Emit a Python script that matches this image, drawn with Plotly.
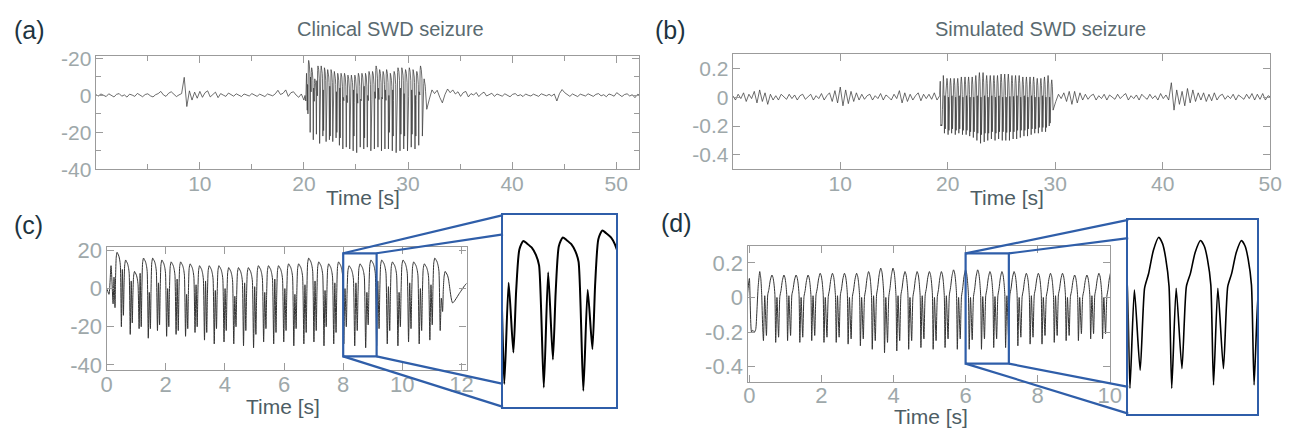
import plotly.graph_objects as go

# ======================= DATA =======================
# ---- Clinical recording (panel a); panel (c) is the excerpt starting at clin_offset ----
clin_step = 0.25
clin_pre_t0 = 0.0
clin_pre_v = [0.5, -0.3, 0.8, 0.2, -0.6, 0.9, 0.1, -0.8, 0.6, 1.0, -0.4, 0.3,
              -0.9, 0.7, 0.2, -0.5, 1.1, 0.0, -0.7, 0.5, 0.9, -0.2, -0.8, 0.4,
              1.0, 2.2, 0.3, -0.5, 1.2, 2.0, 0.4, -0.6,
              0.3, 1.0, 9.8, -6.0, 2.5, -2.5, 1.8, -1.5,
              2.2, -1.0, 1.5, 2.5, -0.8, 0.6, 1.8, -1.2, 1.0, 0.2, -0.5, 1.3,
              0.2, -0.4, 0.9, 0.3, -0.6, 0.8, 0.1, -0.3, 1.0, 0.4, -0.5, 0.7,
              0.0, -0.6, 0.8, 0.3, -0.2, 0.9,
              2.8, 0.5, 1.2, 3.0, -0.5, 1.5, 2.0, 0.2, -1.0, 0.8, -2.5]
clin_post_t0 = 31.8
clin_post_v = [-7.5, -2.0, 3.0, 1.0, 2.8, -1.0, -4.0, 0.5, 3.5, 1.5, 3.0, 0.8,
               2.0, -0.5, 1.5, 2.2, -0.8, 1.0, 0.2, 1.6, -0.6, 0.9, 1.8, -0.3,
               0.6, 1.2, -0.5, 0.8, 0.2, -0.4, 0.9, 0.3, -0.7, 0.6, 1.0, -0.2,
               0.4, -0.6, 0.8, 0.1, -0.3, 0.7,
               0.2, -0.5, 0.9, 0.4, -0.2, 0.6, -0.3, 0.8, -3.0, 1.0, 3.2, 1.5,
               0.3, -0.5, 0.8, 0.1, -0.6, 0.7, 0.2, -0.3, 0.9, 0.0, -0.5, 0.6,
               1.0, -0.2, 0.4, -0.7, 0.8, 0.3, -0.4, 1.5, 0.2, -0.6, 0.5, 0.9,
               -0.3, 0.4, -1.2, 0.6, 0.2]
clin_offset = 20.1                      # time in (a) where excerpt (c) starts
clin_lead_t = [0.0, 0.08, 0.15]         # excerpt time
clin_lead_v = [0.0, -3.0, 12.0]
# spike-wave cycles (excerpt time of each deep trough, and the levels of each cycle)
clin_onset = [0.22, 0.50, 0.80, 1.10, 1.41, 1.72, 2.03, 2.35, 2.67, 2.99,
              3.31, 3.64, 3.97, 4.30, 4.63, 4.97, 5.31, 5.65, 5.99, 6.33,
              6.67, 7.01, 7.35, 7.68, 8.02, 8.39, 8.76, 9.13, 9.49, 9.85,
              10.21, 10.57, 10.93, 11.28]
clin_trough = [-8, -20, -24, -21, -26, -22, -25, -24, -25, -23,
               -27, -29, -28, -29, -30, -31, -28, -29, -28, -30,
               -29, -28, -30, -29, -29, -30, -31, -30, -29, -30,
               -28, -29, -27, -22]
clin_spike = [6, 10, 4, 8, -2, 3, 0, 5, -3, 2,
              4, -1, 0, -4, 3, 1, -2, 5, 0, -3,
              2, 4, -1, 3, 0, 3, -2, 4, 1, -2,
              3, 0, 2, -5]
clin_notch = [-10, -14, -18, -20, -21, -19, -20, -22, -21, -20,
              -23, -21, -22, -20, -22, -24, -21, -23, -22, -21,
              -23, -22, -20, -23, -20, -22, -19, -21, -22, -20,
              -21, -22, -19, -12]
clin_peak = [19, 15, 9, 16, 16, 15, 14, 14, 13, 12,
             12, 12, 11, 11, 11, 12, 12, 12, 13, 13,
             16, 14, 13, 14, 12, 13, 15, 15, 14, 15,
             14, 13, 16, 9]
# cycle shape (c): (phase, weights of D/S/T/P, constant)
clin_shape = [(0.00, {'D': 1}), (0.11, {'S': 1}), (0.23, {'T': 1}),
              (0.30, {'T': 0.45, 'P': 0.55}), (0.38, {'P': 1, 'c': -2.5}),
              (0.48, {'P': 1}), (0.58, {'P': 1, 'c': -0.8}), (0.70, {'P': 1, 'c': -2.0}),
              (0.80, {'P': 1, 'c': -4.0}), (0.88, {'P': 1, 'c': -7.0})]

# ---- Simulated recording (panel b); panel (d) is the excerpt starting at sim_offset ----
sim_step = 0.25
sim_pre_t0 = 0.0
sim_pre_v = [0.01, -0.02, 0.02, -0.01, 0.03, -0.03, 0.02, -0.01,
             0.04, -0.04, 0.05, -0.03, 0.03, -0.05, 0.02, -0.02,
             0.01, -0.02, 0.02, 0.0, -0.015, 0.02, -0.01, 0.015, -0.02, 0.01,
             0.02, -0.015, 0.0, 0.02, -0.02, 0.01, -0.01, 0.025, -0.02, 0.01,
             0.03, -0.03, 0.045, -0.04, 0.07, -0.06, 0.05, -0.045, 0.04, -0.03, 0.03, -0.02,
             0.02, -0.015, 0.01, 0.02, -0.02, 0.01, -0.01, 0.025, -0.02, 0.015, 0.0, -0.02,
             0.02, -0.01,
             0.045, -0.04, 0.03, -0.03, 0.02, -0.02, 0.01, 0.03, -0.025, 0.02, -0.01, 0.02,
             -0.015, 0.03, -0.02, 0.01]
sim_post_t0 = 29.8
sim_post_v = [-0.09, -0.03, 0.02, -0.01, 0.03, -0.03, 0.04, -0.05, 0.04, -0.04, 0.03, -0.02,
              0.02, -0.015, 0.01, 0.02, -0.02, 0.01, -0.01, 0.02, -0.02, 0.015, 0.0, -0.015,
              0.02, -0.01, 0.01, 0.025, -0.02, 0.01, -0.01, 0.015, -0.02, 0.02, 0.0, -0.015,
              0.02, -0.01, 0.01, -0.02, 0.025, -0.01, 0.015, -0.02,
              0.10, -0.09, 0.05, -0.05, 0.04, -0.06, 0.06, -0.04, 0.05, -0.03, 0.03, -0.02,
              0.03, -0.03, 0.02, -0.025, 0.03, -0.02, 0.01, 0.02, -0.015, 0.01, -0.01, 0.02,
              -0.02, 0.015, 0.0, -0.015, 0.02, -0.01, 0.025, -0.02, 0.02, -0.015, 0.025, -0.02,
              0.01, 0.0]
sim_offset = 19.3
sim_lead_t = [-0.05, 0.0]
sim_lead_v = [0.02, 0.11]
sim_onset = [0.06, 0.39, 0.73, 1.06, 1.40, 1.73, 2.07, 2.41, 2.74, 3.08,
             3.41, 3.75, 4.09, 4.42, 4.76, 5.10, 5.43, 5.77, 6.10, 6.44,
             6.78, 7.11, 7.45, 7.79, 8.12, 8.46, 8.79, 9.13, 9.47, 9.80, 10.14]
sim_trough = [-0.20, -0.25, -0.26, -0.25, -0.26, -0.25, -0.26, -0.26, -0.27, -0.28,
              -0.30, -0.32, -0.31, -0.30, -0.29, -0.30, -0.29, -0.30, -0.30, -0.30,
              -0.29, -0.29, -0.28, -0.27, -0.27, -0.26, -0.25, -0.25, -0.24, -0.24, -0.20]
sim_spike = [-0.19, 0.01, 0.0, 0.01, 0.0, 0.01, 0.0, 0.01, 0.0, 0.0,
             0.01, 0.0, 0.01, 0.0, 0.01, 0.0, 0.01, 0.0, 0.0, 0.005,
             0.005, 0.01, 0.0, 0.01, 0.0, 0.01, 0.0, 0.0, 0.01, 0.0, 0.0]
sim_notch = [-0.20, -0.22, -0.23, -0.22, -0.23, -0.22, -0.23, -0.23, -0.24, -0.24,
             -0.25, -0.26, -0.25, -0.25, -0.24, -0.25, -0.24, -0.24, -0.245, -0.24,
             -0.24, -0.23, -0.23, -0.23, -0.22, -0.22, -0.22, -0.21, -0.21, -0.21, -0.18]
sim_peak = [0.15, 0.13, 0.13, 0.13, 0.13, 0.14, 0.14, 0.14, 0.14, 0.15,
            0.17, 0.17, 0.15, 0.15, 0.15, 0.15, 0.16, 0.16, 0.16, 0.15,
            0.15, 0.15, 0.14, 0.14, 0.14, 0.14, 0.13, 0.13, 0.14, 0.15, 0.12]
sim_shape = [(0.000, {'D': 1}), (0.106, {'S': 1}), (0.244, {'T': 1}),
             (0.350, {'S': 1, 'c': 0.005}), (0.447, {'S': 0.69, 'P': 0.31}),
             (0.560, {'S': 0.25, 'P': 0.75}), (0.690, {'P': 1}),
             (0.780, {'S': 0.12, 'P': 0.88}), (0.854, {'S': 0.39, 'P': 0.61}),
             (0.935, {'S': 0.93, 'P': 0.07})]

# axis labels
clin_y_vals = [-40, -20, 0, 20]
clin_y_text = ['-40', '-20', '0', '-20']
clin_x_vals = [10, 20, 30, 40, 50]
sim_y_vals = [-0.4, -0.2, 0, 0.2]
sim_y_text = ['-0.4', '-0.2', '0', '0.2']
sim_x_vals = [10, 20, 30, 40, 50]
exc_c_x_vals = [0, 2, 4, 6, 8, 10, 12]
exc_c_y_vals = [-40, -20, 0, 20]
exc_d_x_vals = [0, 2, 4, 6, 8, 10]
exc_d_y_vals = [-0.4, -0.2, 0, 0.2]
exc_d_y_text = ['-0.4', '-0.2', '0', '0.2']

# zoom windows (excerpt time / value)
c_zoom_x = [8.0, 9.13]
c_zoom_y = [-35.5, 18.5]
c_inset_x = [8.008, 9.07]
c_inset_y = [-35.6, 19.4]
d_zoom_x = [6.0, 7.2]
d_zoom_y = [-0.383, 0.255]
d_inset_x = [6.086, 7.137]
d_inset_y = [-0.377, 0.213]


# ======================= BUILD SERIES =======================
def build_cycles(onsets, D, S, T, P, shape):
    ts, vs = [], []
    n = len(onsets)
    for k in range(n):
        per = (onsets[k + 1] - onsets[k]) if k < n - 1 else (onsets[k] - onsets[k - 1])
        lv = {'D': D[k], 'S': S[k], 'T': T[k], 'P': P[k]}
        for ph, w in shape:
            ts.append(onsets[k] + ph * per)
            vs.append(sum(c * lv[key] for key, c in w.items() if key != 'c') + w.get('c', 0.0))
    return ts, vs


def assemble(pre_t0, pre_v, step, offset, lead_t, lead_v, cyc, post_t0, post_v):
    t = [pre_t0 + i * step for i in range(len(pre_v))]
    v = list(pre_v)
    t += [offset + x for x in lead_t]
    v += list(lead_v)
    t += [offset + x for x in cyc[0]]
    v += cyc[1]
    t += [post_t0 + i * step for i in range(len(post_v))]
    v += list(post_v)
    return t, v


clin_cyc = build_cycles(clin_onset, clin_trough, clin_spike, clin_notch, clin_peak, clin_shape)
clin_t, clin_v = assemble(clin_pre_t0, clin_pre_v, clin_step, clin_offset, clin_lead_t, clin_lead_v,
                          clin_cyc, clin_post_t0, clin_post_v)
sim_cyc = build_cycles(sim_onset, sim_trough, sim_spike, sim_notch, sim_peak, sim_shape)
sim_t, sim_v = assemble(sim_pre_t0, sim_pre_v, sim_step, sim_offset, sim_lead_t, sim_lead_v,
                        sim_cyc, sim_post_t0, sim_post_v)
clin_exc_t = [x - clin_offset for x in clin_t]
sim_exc_t = [x - sim_offset for x in sim_t]

# ======================= LAYOUT HELPERS =======================
W, H = 1299, 437
FONT = "Liberation Sans, Arial, sans-serif"
BLUE = "#2f5ea9"
FRAME = "#9b9b9b"
TICKC = "#9ea8aa"


def dx(a, b):
    return [a / W, b / W]


def dy(top, bot):
    return [1 - bot / H, 1 - top / H]


dom = {
    'a': (dx(91, 642), dy(49, 168)),
    'b': (dx(737, 1282), dy(47, 168)),
    'c': (dx(102, 467), dy(249, 378)),
    'd': (dx(752, 1120), dy(248, 391)),
    'ci': (dx(504, 619), dy(216, 417)),
    'di': (dx(1138, 1269), dy(221, 424)),
}
rng = {
    'a': ([0, 52.2], [-40, 21.5]),
    'b': ([0, 50], [-0.5, 0.3]),
    'c': ([0, 12.17], [-42.5, 22]),
    'd': ([-0.05, 10.02], [-0.49, 0.3]),
    'ci': (c_inset_x, c_inset_y),
    'di': (d_inset_x, d_inset_y),
}


def axis(domain, r, anchor, tickvals=None, ticktext=None, minor=None, size=21, show=True, standoff=-1):
    a = dict(domain=domain, range=r, anchor=anchor, showgrid=False, zeroline=False,
             showline=True, linecolor=FRAME, linewidth=1.3, mirror='ticks',
             ticks='inside', ticklen=7, tickwidth=1, tickcolor=FRAME,
             tickfont=dict(family=FONT, size=size, color=TICKC), fixedrange=True,
             ticklabelstandoff=standoff)
    if tickvals is not None:
        a['tickvals'] = tickvals
        a['ticktext'] = ticktext if ticktext is not None else [str(x) for x in tickvals]
    if minor is not None:
        a['minor'] = dict(tickvals=minor, ticks='inside', ticklen=5, tickcolor=FRAME, showgrid=False)
    if not show:
        a.update(showticklabels=False, ticks='', linecolor=BLUE, linewidth=2.2, mirror=True)
        a.pop('ticklabelstandoff')
    return a


fig = go.Figure()
line_main = dict(color='#3c3c3c', width=0.75)
fig.add_trace(go.Scatter(x=clin_t, y=clin_v, mode='lines', line=line_main, xaxis='x', yaxis='y', hoverinfo='skip'))
fig.add_trace(go.Scatter(x=sim_t, y=sim_v, mode='lines', line=line_main, xaxis='x2', yaxis='y2', hoverinfo='skip'))
fig.add_trace(go.Scatter(x=clin_exc_t, y=clin_v, mode='lines', line=dict(color='#333', width=1, shape='spline', smoothing=0.6),
                         xaxis='x3', yaxis='y3', hoverinfo='skip'))
fig.add_trace(go.Scatter(x=sim_exc_t, y=sim_v, mode='lines', line=dict(color='#333', width=1, shape='spline', smoothing=0.6),
                         xaxis='x4', yaxis='y4', hoverinfo='skip'))
fig.add_trace(go.Scatter(x=clin_exc_t, y=clin_v, mode='lines', line=dict(color='#000', width=2, shape='spline', smoothing=0.6),
                         xaxis='x5', yaxis='y5', hoverinfo='skip'))
fig.add_trace(go.Scatter(x=sim_exc_t, y=sim_v, mode='lines', line=dict(color='#000', width=1.6, shape='spline', smoothing=0.6),
                         xaxis='x6', yaxis='y6', hoverinfo='skip'))

layout = dict(
    width=W, height=H, margin=dict(l=0, r=0, t=0, b=0), showlegend=False,
    paper_bgcolor='white', plot_bgcolor='white',
    xaxis=axis(dom['a'][0], rng['a'][0], 'y', clin_x_vals, minor=[5, 15, 25, 35, 45], standoff=-5),
    yaxis=axis(dom['a'][1], rng['a'][1], 'x', clin_y_vals, clin_y_text, minor=[-30, -10, 10]),
    xaxis2=axis(dom['b'][0], rng['b'][0], 'y2', sim_x_vals, standoff=-5),
    yaxis2=axis(dom['b'][1], rng['b'][1], 'x2', sim_y_vals, sim_y_text),
    xaxis3=axis(dom['c'][0], rng['c'][0], 'y3', exc_c_x_vals, size=22, standoff=-5),
    yaxis3=axis(dom['c'][1], rng['c'][1], 'x3', exc_c_y_vals, size=22),
    xaxis4=axis(dom['d'][0], rng['d'][0], 'y4', exc_d_x_vals, size=22, standoff=-7),
    yaxis4=axis(dom['d'][1], rng['d'][1], 'x4', exc_d_y_vals, exc_d_y_text, size=22),
    xaxis5=axis(dom['ci'][0], rng['ci'][0], 'y5', show=False),
    yaxis5=axis(dom['ci'][1], rng['ci'][1], 'x5', show=False),
    xaxis6=axis(dom['di'][0], rng['di'][0], 'y6', show=False),
    yaxis6=axis(dom['di'][1], rng['di'][1], 'x6', show=False),
)
fig.update_layout(**layout)


def to_paper(d, r, v):
    return d[0] + (v - r[0]) / (r[1] - r[0]) * (d[1] - d[0])


shapes = []
for key, zx, zy, xr, yr, fin in (('c', c_zoom_x, c_zoom_y, 'x3', 'y3', (0.10, 0.88)),
                                ('d', d_zoom_x, d_zoom_y, 'x4', 'y4', (0.094, 0.862))):
    shapes.append(dict(type='rect', xref=xr, yref=yr, x0=zx[0], x1=zx[1], y0=zy[0], y1=zy[1],
                       line=dict(color=BLUE, width=2.2), layer='above'))
    px0 = to_paper(dom[key][0], rng[key][0], zx[0])
    px1 = to_paper(dom[key][0], rng[key][0], zx[1])
    py0 = to_paper(dom[key][1], rng[key][1], zy[0])
    py1 = to_paper(dom[key][1], rng[key][1], zy[1])
    ik = key + 'i'
    ix = dom[ik][0][0]
    iy0, iy1 = dom[ik][1]
    ih = iy1 - iy0
    for (sx, sy, ty) in ((px0, py1, iy1), (px1, py1, iy1 - fin[0] * ih),
                         (px1, py0, iy1 - fin[1] * ih), (px0, py0, iy0)):
        shapes.append(dict(type='line', xref='paper', yref='paper', x0=sx, y0=sy, x1=ix, y1=ty,
                           line=dict(color=BLUE, width=2.2), layer='above'))
fig.update_layout(shapes=shapes)


def ann(text, x, y, size, color):
    return dict(text=text, x=x / W, y=1 - y / H, xref='paper', yref='paper', showarrow=False,
                xanchor='center', yanchor='middle', font=dict(family=FONT, size=size, color=color))


annotations = [
    ann('(a)', 24, 22, 25, '#1d3440'), ann('(b)', 674, 22, 25, '#1d3440'),
    ann('(c)', 23, 226, 25, '#1d3440'), ann('(d)', 680, 224, 25, '#1d3440'),
    ann('Clinical SWD seizure', 390, 21, 20, '#5a6a70'),
    ann('Simulated SWD seizure', 1049, 21, 20, '#5a6a70'),
    ann('Time [s]', 362, 198, 21, '#4d5d64'), ann('Time [s]', 1015, 198, 21, '#4d5d64'),
    ann('Time [s]', 281, 417, 21, '#4d5d64'), ann('Time [s]', 938, 427, 21, '#4d5d64'),
]
fig.update_layout(annotations=annotations)

fig.write_html("out.html", config={'displayModeBar': False},
               post_script="document.body.style.margin='0';document.body.style.overflow='hidden';")
